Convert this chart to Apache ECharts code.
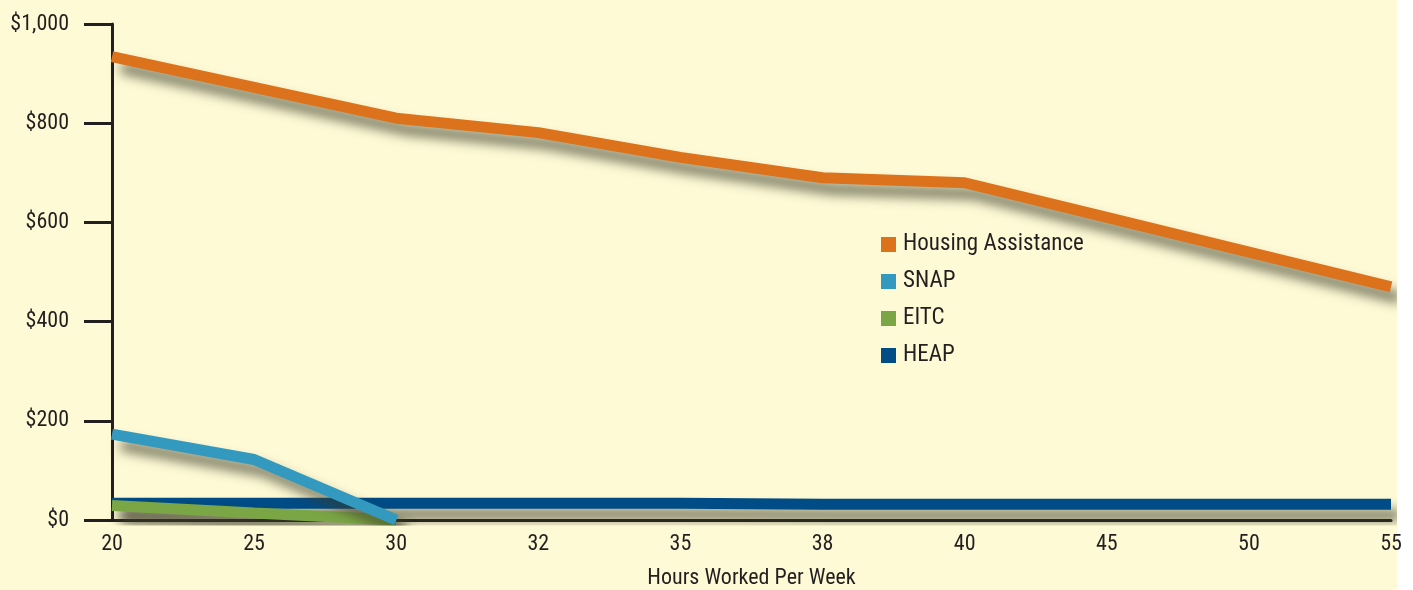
<!DOCTYPE html>
<html>
<head>
<meta charset="utf-8">
<script src="https://cdn.jsdelivr.net/npm/echarts@6/dist/echarts.min.js"></script>
<style>
    html, body { margin: 0; padding: 0; background: #ffffff; }
    .paper { position: absolute; left: 0; top: 0; width: 1397px; height: 590px; background: #fefad6; }
    #chart { position: absolute; left: 0; top: 0; width: 1413px; height: 590px; }
</style>
</head>
<body>
<div class="paper"></div>
<div id="chart"></div>
<script>
    // hours per week (x axis)
    var hours = ['20', '25', '30', '32', '35', '38', '40', '45', '50', '55'];
    // monthly benefit in dollars
    var housing = [934, 872, 810, 781, 731, 690, 680, 610, 540, 470];
    var snap = [173, 122, 0, null, null, null, null, null, null, null];
    var eitc = [29, 14, 0, null, null, null, null, null, null, null];
    var heap = [34, 34, 34, 34, 34, 32, 32, 32, 32, 32];
    var yTicks = [0, 200, 400, 600, 800, 1000];

    var ink = '#231f20';
    var font = '"Liberation Sans Narrow", "Arial Narrow", "Roboto Condensed", "Liberation Sans", sans-serif';

    function line(name, values, color) {
        return {
            name: name,
            type: 'line',
            data: values,
            symbol: 'none',
            connectNulls: false,
            animation: false,
            lineStyle: {
                color: color,
                width: 11,
                cap: 'butt',
                shadowColor: 'rgba(60,60,40,0.7)',
                shadowBlur: 12,
                shadowOffsetX: 9,
                shadowOffsetY: 11
            },
            itemStyle: { color: color }
        };
    }

    var chart = echarts.init(document.getElementById('chart'));
    chart.setOption({
        backgroundColor: 'transparent',
        textStyle: { fontFamily: font, color: ink },
        grid: { left: 112, right: 22, top: 24, bottom: 70, outerBoundsMode: 'none', containLabel: false },
        legend: {
            orient: 'vertical',
            left: 876,
            top: 228,
            icon: 'rect',
            itemWidth: 15,
            itemHeight: 15,
            itemGap: 14,
            data: ['Housing Assistance', 'SNAP', 'EITC', 'HEAP'],
            textStyle: { fontFamily: font, fontSize: 23, color: ink, padding: [0, 0, 0, 2] }
        },
        xAxis: {
            type: 'category',
            boundaryGap: false,
            data: hours,
            name: 'Hours Worked Per Week',
            nameLocation: 'middle',
            nameGap: 47,
            nameTextStyle: { fontFamily: font, fontSize: 22, color: ink },
            axisLine: { lineStyle: { color: ink, width: 3 } },
            axisTick: { show: false },
            axisLabel: { fontFamily: font, fontSize: 22, color: ink, margin: 13 },
            splitLine: { show: false }
        },
        yAxis: {
            type: 'value',
            min: yTicks[0],
            max: yTicks[yTicks.length - 1],
            interval: 200,
            axisLine: { show: true, lineStyle: { color: ink, width: 3 } },
            axisTick: { show: true, inside: false, length: 28, lineStyle: { color: ink, width: 3 } },
            axisLabel: {
                fontFamily: font, fontSize: 22, color: ink, margin: 43,
                formatter: function (v) { return '$' + v.toLocaleString('en-US'); }
            },
            splitLine: { show: false }
        },
        series: [
            line('HEAP', heap, '#004c86'),
            line('EITC', eitc, '#7ba645'),
            line('SNAP', snap, '#3399bf'),
            line('Housing Assistance', housing, '#dc731c')
        ]
    });
</script>
</body>
</html>
